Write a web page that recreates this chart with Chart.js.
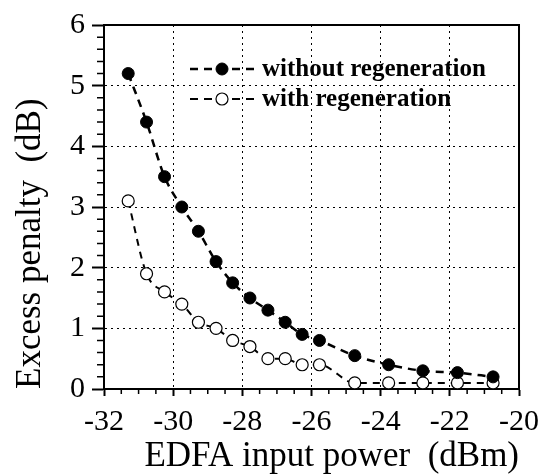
<!DOCTYPE html>
<html>
<head>
<meta charset="utf-8">
<title>Excess penalty vs EDFA input power</title>
<script src="https://cdn.jsdelivr.net/npm/chart.js@4.4.1/dist/chart.umd.min.js"></script>
<style>
	html, body { margin: 0; padding: 0; background: #fff; }
	#wrap { width: 547px; height: 474px; }
</style>
</head>
<body>
<div id="wrap"><canvas id="myChart" width="547" height="474"></canvas></div>
<script>
	'use strict';

	// values
	var inputPower = [-31.3, -30.77, -30.25, -29.75, -29.27, -28.76, -28.28, -27.78, -27.26, -26.76, -26.27, -25.77, -24.75, -23.77, -22.78, -21.78, -20.75];
	var penaltyWithout = [5.2, 4.4, 3.5, 3.0, 2.6, 2.1, 1.75, 1.5, 1.3, 1.1, 0.9, 0.8, 0.55, 0.4, 0.3, 0.27, 0.2];
	var penaltyWith = [3.1, 1.9, 1.6, 1.4, 1.1, 1.0, 0.8, 0.7, 0.5, 0.5, 0.4, 0.4, 0.1, 0.1, 0.1, 0.1, 0.1];
	var seriesNames = ['without regeneration', 'with regeneration'];
	var xTitle = 'EDFA input power  (dBm)';
	var yTitle = 'Excess penalty  (dB)';

	var serif = "'Liberation Serif', 'Times New Roman', serif";

	function toPoints(xs, ys){
		return xs.map(function(x, i){ return { x: x, y: ys[i] }; });
	}

	// box round the plot, minor ticks and the in-plot legend
	var framePlugin = {
		id: 'frame',
		afterDatasetsDraw: function(chart){
			var ctx = chart.ctx;
			var area = chart.chartArea;
			var xs = chart.scales.x, ys = chart.scales.y;
			var v, p;
			ctx.save();
			ctx.strokeStyle = '#000';
			ctx.lineWidth = 2;
			ctx.beginPath();
			ctx.moveTo(area.left, area.top);
			ctx.lineTo(area.right, area.top);
			ctx.lineTo(area.right, area.bottom);
			ctx.stroke();

			ctx.lineWidth = 1.5;
			ctx.beginPath();
			for (v = xs.min; v <= xs.max + 1e-9; v += 0.5) {
				if (Math.abs(v / 2 - Math.round(v / 2)) < 1e-6) continue;
				p = xs.getPixelForValue(v);
				ctx.moveTo(p, area.bottom);
				ctx.lineTo(p, area.bottom + 5);
			}
			for (v = ys.min; v <= ys.max + 1e-9; v += 0.2) {
				if (Math.abs(v - Math.round(v)) < 1e-6) continue;
				p = ys.getPixelForValue(v);
				ctx.moveTo(area.left, p);
				ctx.lineTo(area.left - 7, p);
			}
			ctx.stroke();

			// legend
			chart.data.datasets.forEach(function(ds, i){
				var y = 69 + i * 30;
				ctx.strokeStyle = '#000';
				ctx.lineWidth = ds.borderWidth;
				ctx.setLineDash([8, 6]);
				ctx.beginPath();
				ctx.moveTo(190, y);
				ctx.lineTo(254, y);
				ctx.stroke();
				ctx.setLineDash([]);
				ctx.beginPath();
				ctx.arc(222, y, ds.pointRadius, 0, Math.PI * 2);
				ctx.fillStyle = ds.pointBackgroundColor;
				ctx.fill();
				ctx.lineWidth = ds.pointBorderWidth;
				ctx.stroke();
				ctx.fillStyle = '#000';
				ctx.font = 'bold 25px ' + serif;
				ctx.textBaseline = 'middle';
				ctx.textAlign = 'left';
				ctx.fillText(ds.label, 262, y + 1);
			});
			ctx.restore();
		}
	};

	var ctx = document.getElementById('myChart').getContext('2d');
	var myChart = new Chart(ctx, {
		type: 'line',
		data: {
			datasets: [{
				label: seriesNames[0],
				data: toPoints(inputPower, penaltyWithout),
				borderColor: '#000',
				borderWidth: 2.5,
				borderDash: [8, 6],
				cubicInterpolationMode: 'monotone',
				pointRadius: 6,
				pointBackgroundColor: '#000',
				pointBorderColor: '#000',
				pointBorderWidth: 1,
				fill: false
			}, {
				label: seriesNames[1],
				data: toPoints(inputPower, penaltyWith),
				borderColor: '#000',
				borderWidth: 2,
				borderDash: [7, 6],
				cubicInterpolationMode: 'monotone',
				pointRadius: 6,
				pointBackgroundColor: '#fff',
				pointBorderColor: '#000',
				pointBorderWidth: 1.2,
				fill: false
			}]
		},
		options: {
			responsive: false,
			animation: false,
			layout: { padding: { top: 25, right: 25, left: 0, bottom: 0 } },
			plugins: {
				legend: { display: false },
				tooltip: { enabled: false }
			},
			scales: {
				x: {
					type: 'linear',
					min: -32,
					max: -20,
					ticks: { stepSize: 2, color: '#000', padding: 8, font: { family: serif, size: 30 } },
					grid: { color: '#000', lineWidth: 1, tickLength: 7, tickWidth: 2, tickColor: '#000' },
					border: { color: '#000', width: 2, dash: [2, 4] },
					title: { display: true, text: xTitle, align: 'end', color: '#000', font: { family: serif, size: 35, lineHeight: 1 }, padding: { top: 0, bottom: 0 } },
					afterFit: function(scale){ scale.height = 85; }
				},
				y: {
					min: 0,
					max: 6,
					ticks: { stepSize: 1, color: '#000', padding: 7, font: { family: serif, size: 30 } },
					grid: { color: '#000', lineWidth: 1, tickLength: 12, tickWidth: 2, tickColor: '#000' },
					border: { color: '#000', width: 2, dash: [2, 4] },
					title: { display: true, text: yTitle, align: 'start', color: '#000', font: { family: serif, size: 35, lineHeight: 1 }, padding: { top: 13, bottom: 0 } },
					afterFit: function(scale){ scale.width = 104; }
				}
			}
		},
		plugins: [framePlugin]
	});
</script>
</body>
</html>
